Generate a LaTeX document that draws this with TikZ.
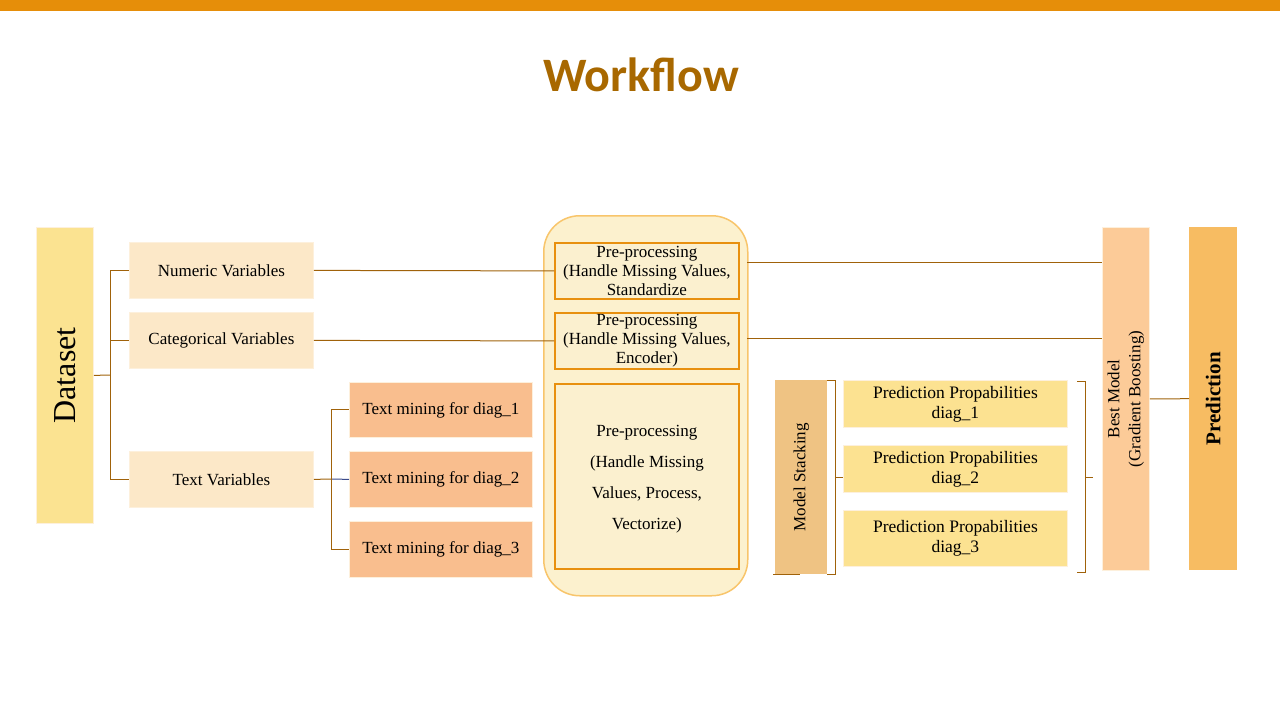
\documentclass[tikz,border=0pt]{standalone}
\usepackage{fontspec}
\setmainfont{Liberation Serif}
\newfontfamily\titlefont{Carlito}
\definecolor{barc}{HTML}{E68E09}
\definecolor{titlec}{HTML}{A86800}
\definecolor{linec}{HTML}{A0620A}
\definecolor{bluec}{HTML}{3B4A8A}
\definecolor{varfill}{HTML}{FCE8C8}
\definecolor{varborder}{HTML}{FDF0DC}
\definecolor{dsin}{HTML}{F2D27C}
\definecolor{dsout}{HTML}{FBE391}
\definecolor{tmin}{HTML}{EDA874}
\definecolor{tmout}{HTML}{F9BE8E}
\definecolor{contfill}{HTML}{FCF1CE}
\definecolor{contborder}{HTML}{F8C56B}
\definecolor{ppborder}{HTML}{E8900F}
\definecolor{ppfill}{HTML}{FBF0CF}
\definecolor{msfill}{HTML}{EFC383}
\definecolor{prin}{HTML}{F2D17C}
\definecolor{prout}{HTML}{FCE291}
\definecolor{bestfill}{HTML}{FCCB98}
\definecolor{predfill}{HTML}{F7BC62}
\begin{document}
\begin{tikzpicture}[x=1pt,y=-1pt,
  font=\fontsize{17}{19}\selectfont,
  box/.style={inner sep=0pt, align=center, anchor=north west},
  varbox/.style={box, fill=varfill, draw=varborder, line width=0.8pt},
  tmbox/.style={box, left color=tmout, middle color=tmin, right color=tmout, draw=varborder, line width=0.8pt},
  ppbox/.style={box, fill=ppfill, draw=ppborder, line width=1.8pt},
  prbox/.style={box, left color=prout, middle color=prin, right color=prout, draw=varborder, line width=0.8pt},
  conn/.style={draw=linec, line width=1pt},
  bconn/.style={draw=bluec, line width=1pt}]
\useasboundingbox (0,0) rectangle (1280,720);
\fill[barc] (0,0) rectangle (1280,11);
\node[font=\titlefont\bfseries\fontsize{48}{50}\selectfont, text=titlec] (title) at (641,75) {Workflow};

% left column
\node[box, top color=dsout, middle color=dsin, bottom color=dsout, draw=varborder, line width=0.8pt, minimum width=57pt, minimum height=296pt] (ds) at (36,227) {};
\node[rotate=90, font=\fontsize{32}{34}\selectfont] (dstext) at (ds.center) {Dataset};

\node[varbox, minimum width=184pt, minimum height=56pt] (num) at (129,242) {Numeric Variables};
\node[varbox, minimum width=184pt, minimum height=56pt] (cat) at (129,312) {Categorical Variables};
\node[varbox, minimum width=184pt, minimum height=56pt] (txt) at (129,451) {Text Variables};

\node[tmbox, minimum width=183pt, minimum height=55pt] (tm1) at (349,382) {Text mining for diag\_1};
\node[tmbox, minimum width=183pt, minimum height=56pt] (tm2) at (349,451) {Text mining for diag\_2};
\node[tmbox, minimum width=183pt, minimum height=56pt] (tm3) at (349,521) {Text mining for diag\_3};

% container
\node[box, fill=contfill, draw=contborder, line width=1.5pt, rounded corners=36pt, minimum width=204pt, minimum height=380pt] (cont) at (543,215) {};
\node[ppbox, minimum width=184pt, minimum height=56pt] (pp1) at (554,242) {Pre-processing\\(Handle Missing Values,\\Standardize};
\node[ppbox, minimum width=184pt, minimum height=56pt] (pp2) at (554,312) {Pre-processing\\(Handle Missing Values,\\Encoder)};
\node[ppbox, minimum width=184pt, minimum height=185pt] (pp3) at (554,383) {};
\node[align=center, font=\fontsize{17}{31}\selectfont] (pp3text) at ([yshift=-3pt]pp3.center) {Pre-processing\\(Handle Missing\\Values, Process,\\Vectorize)};

% stacking
\node[box, fill=msfill, minimum width=52pt, minimum height=194pt] (ms) at (775,380) {};
\node[rotate=90] (mstext) at (ms.center) {Model Stacking};

\node[prbox, minimum width=224pt, minimum height=47pt, font=\fontsize{17.5}{20}\selectfont] (pr1) at (843,380) {Prediction Propabilities\\diag\_1};
\node[prbox, minimum width=224pt, minimum height=47pt, font=\fontsize{17.5}{20}\selectfont] (pr2) at (843,445) {Prediction Propabilities\\diag\_2};
\node[prbox, minimum width=224pt, minimum height=56pt, font=\fontsize{17.5}{20}\selectfont] (pr3) at (843,510) {Prediction Propabilities\\diag\_3};

\node[box, fill=bestfill, draw=varborder, line width=0.8pt, minimum width=47pt, minimum height=343pt] (best) at (1102,227) {};
\node[rotate=90, align=center, font=\fontsize{17}{21}\selectfont] (besttext) at (best.center) {Best Model\\(Gradient Boosting)};

\node[box, fill=predfill, minimum width=48pt, minimum height=343pt] (pred) at (1189,227) {};
\node[rotate=90, font=\bfseries\fontsize{21}{23}\selectfont] (predtext) at (pred.center) {Prediction};

% connectors: dataset
\coordinate (j1) at (110,375);
\draw[conn] (ds.east) -- (j1);
\draw[conn] (j1|-num.west) -- (j1|-txt.west);
\draw[conn] (j1|-num.west) -- (num.west);
\draw[conn] (j1|-cat.west) -- (cat.west);
\draw[conn] (j1|-txt.west) -- (txt.west);

% text variables
\coordinate (j2) at (331,479);
\draw[conn] (txt.east) -- (j2);
\draw[bconn] (j2) -- (tm2.west);
\draw[conn] (j2|-tm1.west) -- (j2|-tm3.west);
\draw[conn] (j2|-tm1.west) -- (tm1.west);
\draw[conn] (j2|-tm3.west) -- (tm3.west);

% to preprocessing
\draw[conn] (num.east) -- (pp1.west);
\draw[conn] (cat.east) -- (pp2.west);

% container to best model
\coordinate (r1) at (747,262);
\coordinate (r2) at (747,338);
\draw[conn] (r1) -- (best.west|-r1);
\draw[conn] (r2) -- (best.west|-r2);

% stacking brackets
\coordinate (b1) at (835,477);
\draw[conn] (ms.north east) -- (b1|-ms.north) -- (b1|-ms.south) -- (ms.south east);
\draw[conn] (b1) -- (pr2.west|-b1);
\draw[conn] ([xshift=-2pt]ms.south west) -- ++(27,0);

\coordinate (b2) at (1085,477);
\coordinate (b2t) at (1077,381);
\coordinate (b2b) at (1077,572);
\coordinate (b2m) at (1093,477);
\draw[conn] (b2t) -- (b2|-b2t) -- (b2|-b2b) -- (b2b);
\draw[conn] (b2) -- (b2m);

% best to prediction
\draw[conn] (best.east) -- (pred.west);
\end{tikzpicture}
\end{document}
